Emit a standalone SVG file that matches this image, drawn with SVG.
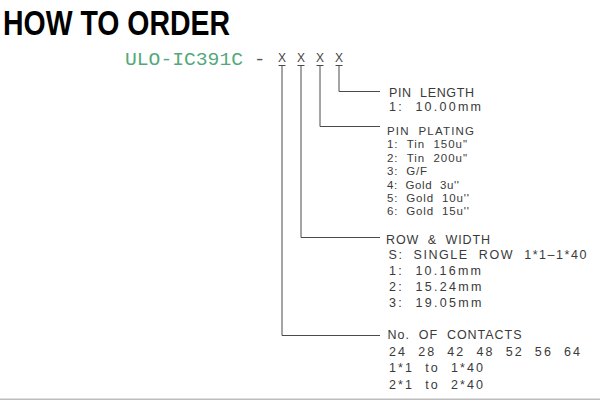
<svg xmlns="http://www.w3.org/2000/svg" width="600" height="400" viewBox="0 0 600 400" xml:space="preserve">
<style>
.t{font-family:"Liberation Sans",Arial,sans-serif;font-size:12.5px;fill:#3a3a3a;white-space:pre}
.p{font-size:11.5px}
.x{font-family:"Liberation Sans",Arial,sans-serif;font-size:12px;fill:#444;text-anchor:middle}
.ln{stroke:#4a4a4a;stroke-width:1;fill:none}
</style>
<rect x="0" y="0" width="600" height="400" fill="#fff"/>
<g id="title">
<text x="3" y="35" font-family="'Liberation Sans',Arial,sans-serif" font-weight="bold" font-size="35" fill="#000" textLength="227" lengthAdjust="spacingAndGlyphs">HOW TO ORDER</text>
</g>
<g id="part-number">
<text x="125" y="65" font-family="'Liberation Mono','Courier New',monospace" font-size="19" fill="#52a87a" textLength="118" lengthAdjust="spacingAndGlyphs">ULO-IC391C</text>
<text x="254" y="65" font-family="'Liberation Mono','Courier New',monospace" font-size="19" fill="#555">-</text>
<text class="x" x="282" y="61.7">X</text>
<text class="x" x="301" y="61.7">X</text>
<text class="x" x="320" y="61.7">X</text>
<text class="x" x="339" y="61.7">X</text>
</g>
<g id="connectors" class="ln">
<path d="M278.5 65.5H285.5M282 65.5V335.5H380"/>
<path d="M297.5 65.5H304.5M301 65.5V237.5H380"/>
<path d="M316.5 65.5H323.5M320 65.5V126.5H380"/>
<path d="M335.5 65.5H342.5M339 65.5V91.5H380"/>
</g>
<g id="pin-length">
<text class="t" x="389" y="96.7" textLength="85" lengthAdjust="spacing">PIN  LENGTH</text>
<text class="t" x="389" y="110.7" textLength="92" lengthAdjust="spacing">1:  10.00mm</text>
</g>
<g id="pin-plating">
<text class="t p" x="387" y="135" textLength="87" lengthAdjust="spacing">PIN  PLATING</text>
<text class="t p" x="387" y="148.4" textLength="80" lengthAdjust="spacing">1:  Tin  150u"</text>
<text class="t p" x="387" y="161.8" textLength="80" lengthAdjust="spacing">2:  Tin  200u"</text>
<text class="t p" x="387" y="175.2" textLength="40" lengthAdjust="spacing">3:  G/F</text>
<text class="t p" x="387" y="188.6" textLength="72" lengthAdjust="spacing">4:  Gold  3u''</text>
<text class="t p" x="387" y="202" textLength="82" lengthAdjust="spacing">5:  Gold  10u''</text>
<text class="t p" x="387" y="215.4" textLength="82" lengthAdjust="spacing">6:  Gold  15u''</text>
</g>
<g id="row-width">
<text class="t" x="386" y="243.5" textLength="104" lengthAdjust="spacing">ROW  &amp;  WIDTH</text>
<text class="t" x="388.5" y="259" textLength="198" lengthAdjust="spacing">S:  SINGLE  ROW  1*1–1*40</text>
<text class="t" x="389" y="275" textLength="92" lengthAdjust="spacing">1:  10.16mm</text>
<text class="t" x="389" y="291" textLength="92.5" lengthAdjust="spacing">2:  15.24mm</text>
<text class="t" x="389" y="307" textLength="92.5" lengthAdjust="spacing">3:  19.05mm</text>
</g>
<g id="contacts">
<text class="t" x="387.5" y="339" textLength="134" lengthAdjust="spacing">No.  OF  CONTACTS</text>
<text class="t" x="389" y="355.5" textLength="191" lengthAdjust="spacing">24  28  42  48  52  56  64</text>
<text class="t" x="389" y="372" textLength="94" lengthAdjust="spacing">1*1  to  1*40</text>
<text class="t" x="389" y="388.5" textLength="94" lengthAdjust="spacing">2*1  to  2*40</text>
</g>
<rect x="0" y="398.5" width="600" height="1.5" fill="#bdbdbd"/>
</svg>
